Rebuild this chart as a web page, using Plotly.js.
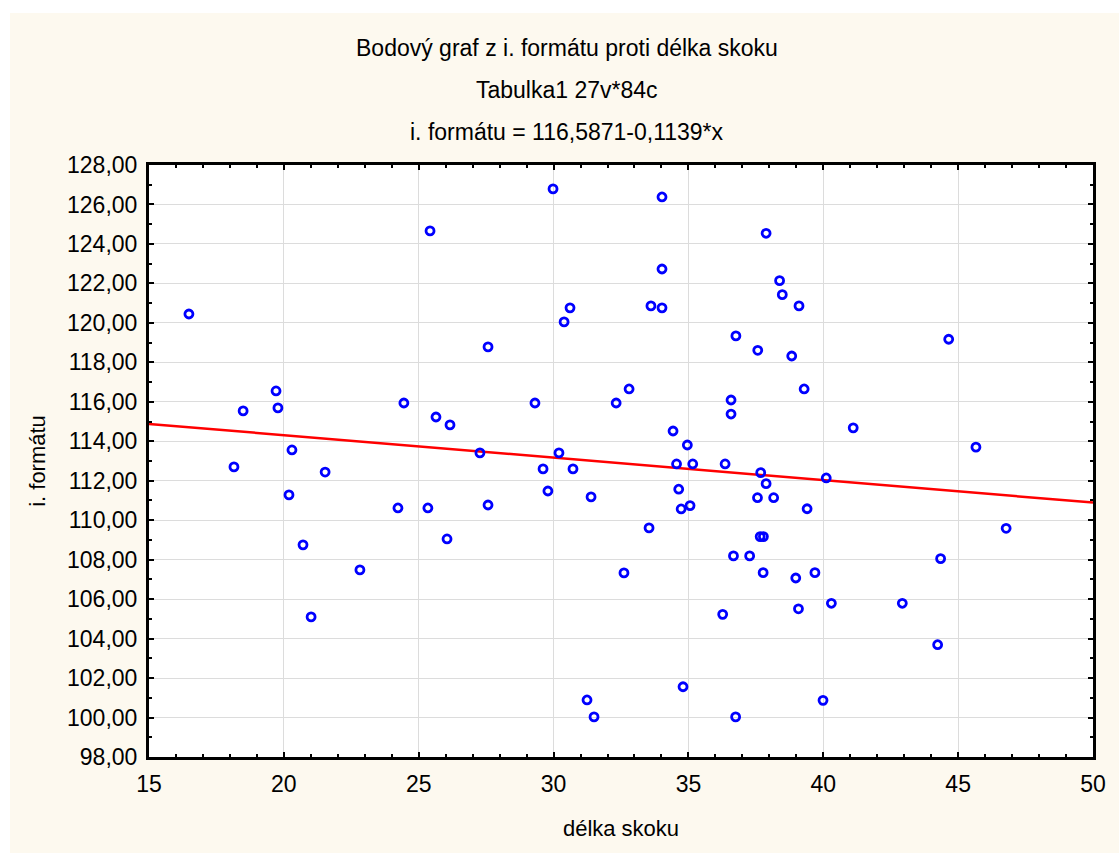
<!DOCTYPE html>
<html>
<head>
<meta charset="utf-8">
<script src="https://cdn.plot.ly/plotly-3.0.1.min.js"></script>
<style>
  html, body { margin: 0; padding: 0; background: #ffffff; width: 1119px; height: 853px; overflow: hidden; }
  #chart { position: absolute; left: 10px; top: 13px; width: 1109px; height: 840px; }
</style>
</head>
<body>
<div id="chart"></div>
<script>
// Data: délka skoku (x) vs i. formátu (y), 84 cases
const delkaSkoku = [
  16.48, 18.15, 18.49, 19.71, 19.78, 20.30, 20.19, 20.71, 21.01, 21.53,
  22.82, 24.23, 24.45, 25.34, 25.42, 25.64, 26.16, 26.05, 27.27, 27.57,
  27.57, 29.31, 29.61, 29.79, 29.98, 30.20, 30.39, 30.61, 30.72, 31.24,
  31.39, 31.50, 32.32, 32.61, 32.80, 33.54, 33.61, 34.02, 34.02, 34.02,
  34.43, 34.56, 34.64, 34.73, 35.06, 34.96, 35.16, 34.80, 36.36, 36.27,
  36.67, 36.75, 37.27, 37.56, 37.68, 37.88, 38.16, 37.66, 37.78, 37.77,
  38.98, 39.08, 39.40, 39.69, 40.11, 40.30, 39.99, 42.93, 44.35, 44.24,
  45.66, 46.78, 44.65, 39.10, 38.83, 39.29, 41.11, 37.88, 38.38, 38.48,
  36.76, 37.57, 36.58, 36.58
];
const iFormatu = [
  120.45, 112.70, 115.54, 116.55, 115.69, 113.56, 111.28, 108.75, 105.10, 112.44,
  107.48, 110.62, 115.94, 110.62, 124.66, 115.23, 114.83, 109.05, 113.41, 118.78,
  110.77, 115.94, 112.60, 111.48, 126.79, 113.41, 120.05, 120.76, 112.60, 100.89,
  111.18, 100.03, 115.94, 107.33, 116.65, 109.61, 120.86, 120.76, 126.38, 122.73,
  114.52, 112.85, 111.57, 110.57, 110.74, 113.81, 112.85, 101.56, 112.85, 105.23,
  108.19, 100.03, 108.19, 111.14, 112.41, 111.85, 111.14, 109.17, 109.17, 107.34,
  107.07, 105.51, 110.58, 107.34, 112.14, 105.79, 100.87, 105.79, 108.05, 103.69,
  113.70, 109.59, 119.17, 120.86, 118.32, 116.65, 114.68, 124.54, 122.14, 121.43,
  119.34, 118.61, 116.09, 115.38
];
// Regression: i. formátu = 116,5871 - 0,1139*x
const intercept = 116.5871;
const slope = -0.1139;
const xRange = [15, 50];
const yRange = [98, 128];

const titleLines = [
  "Bodový graf z i. formátu proti délka skoku",
  "Tabulka1 27v*84c",
  "i. formátu = 116,5871-0,1139*x"
];
const xTitle = "délka skoku";
const yTitle = "i. formátu";

const lineX = xRange.slice();
const lineY = lineX.map(v => intercept + slope * v);

const FONT = "Liberation Sans, Arial, sans-serif";

const traces = [
  {
    x: lineX, y: lineY, type: "scatter", mode: "lines",
    line: { color: "#ff0000", width: 2.5 },
    hoverinfo: "skip", showlegend: false, cliponaxis: true
  },
  {
    x: delkaSkoku, y: iFormatu, type: "scatter", mode: "markers",
    marker: { symbol: "circle-open", size: 8, color: "#0000ff", line: { color: "#0000ff", width: 2.8 } },
    showlegend: false, cliponaxis: false
  }
];

const titleY = [1.1976, 1.1267, 1.0557];
const annotations = titleLines.map((t, i) => ({
  text: t, xref: "paper", yref: "paper", x: 0.443, y: titleY[i],
  xanchor: "center", yanchor: "middle", showarrow: false,
  font: { family: FONT, size: 23, color: "#000000" }
}));

const axisCommon = {
  showline: true, linecolor: "#000000", linewidth: 3, mirror: "ticks",
  ticks: "inside", ticklen: 5, tickwidth: 2, tickcolor: "#000000",
  showgrid: true, gridcolor: "#dcdcdc", gridwidth: 1, zeroline: false,
  tickfont: { family: FONT, size: 23, color: "#000000" },
  fixedrange: true
};

const layout = {
  width: 1109, height: 840,
  paper_bgcolor: "#fdf9ef", plot_bgcolor: "#ffffff",
  margin: { l: 139, r: 26, t: 152, b: 96 },
  separators: ", ",
  showlegend: false,
  annotations: annotations,
  xaxis: Object.assign({}, axisCommon, {
    range: xRange, dtick: 5, tick0: 15,
    ticklabelstandoff: 4,
    minor: { dtick: 1, ticks: "inside", ticklen: 3, tickwidth: 2, tickcolor: "#000000", showgrid: false },
    title: { text: xTitle, font: { family: FONT, size: 22, color: "#000000" }, standoff: 26 }
  }),
  yaxis: Object.assign({}, axisCommon, {
    range: yRange, dtick: 2, tick0: 98, tickformat: ".2f",
    ticklabelstandoff: 4,
    minor: { dtick: 1, ticks: "inside", ticklen: 3, tickwidth: 2, tickcolor: "#000000", showgrid: false },
    title: { text: yTitle, font: { family: FONT, size: 22, color: "#000000" }, standoff: 16 }
  })
};

Plotly.newPlot("chart", traces, layout, { displayModeBar: false, staticPlot: true });
</script>
</body>
</html>
